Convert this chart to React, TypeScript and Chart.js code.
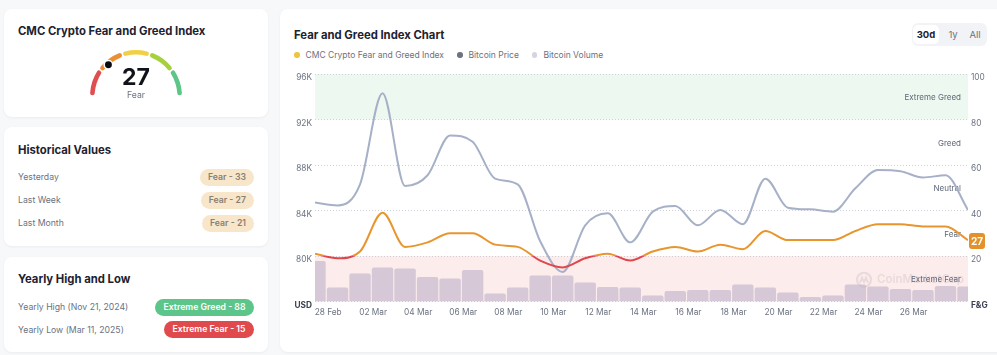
import React, { useEffect, useRef } from "react";
import { Chart, registerables } from "chart.js";

Chart.register(...registerables);

const FONT = "Inter, 'Noto Sans', 'DejaVu Sans', sans-serif";

// ---------- data ----------
const sampleDays = [
  "27 Feb", "28 Feb", "01 Mar", "02 Mar", "03 Mar", "04 Mar", "05 Mar", "06 Mar", "07 Mar", "08 Mar",
  "09 Mar", "10 Mar", "11 Mar", "12 Mar", "13 Mar", "14 Mar", "15 Mar", "16 Mar", "17 Mar", "18 Mar",
  "19 Mar", "20 Mar", "21 Mar", "22 Mar", "23 Mar", "24 Mar", "25 Mar", "26 Mar", "27 Mar", "28 Mar",
];
const SAMPLE_HOUR = 10; // samples are taken at 10:00 each day
const xTickLabels = [
  "28 Feb", "02 Mar", "04 Mar", "06 Mar", "08 Mar", "10 Mar", "12 Mar",
  "14 Mar", "16 Mar", "18 Mar", "20 Mar", "22 Mar", "24 Mar", "26 Mar",
];
const fearGreedIndex = [
  21, 19, 22, 39, 24, 26, 30, 30, 25, 24,
  18, 15, 19, 21, 18, 22, 24, 22, 25, 23,
  31, 27, 27, 27, 31, 34, 34, 33, 33, 27,
];
const bitcoinPrice = [
  84700, 84450, 86300, 94300, 86150, 87100, 90600, 90050, 86800, 86300,
  81300, 78600, 82700, 83750, 81200, 83900, 84400, 82700, 84050, 82800,
  86800, 84250, 84100, 83900, 85950, 87550, 87450, 86900, 87100, 84050,
];
const bitcoinVolume = [
  81, 28, 56, 68, 66, 49, 46, 63, 16, 28,
  52, 52, 38, 29, 28, 12, 21, 23, 23, 34,
  28, 18, 9, 12, 34, 30, 25, 23, 31, 30,
];
const priceTicks = [76000, 80000, 84000, 88000, 92000, 96000];
const fngTicks = [0, 20, 40, 60, 80, 100];
const sentimentZones = ["Extreme Fear", "Fear", "Neutral", "Greed", "Extreme Greed"];
const zoneWidths = [20, 20, 20, 20, 20];
const currentIndex = 27;
const historical = [
  { label: "Yesterday", value: "Fear - 33" },
  { label: "Last Week", value: "Fear - 27" },
  { label: "Last Month", value: "Fear - 21" },
];
const yearly = [
  { label: "Yearly High (Nov 21, 2024)", value: "Extreme Greed - 88", kind: "high" },
  { label: "Yearly Low (Mar 11, 2025)", value: "Extreme Fear - 15", kind: "low" },
];

// ---------- styles ----------
const ORANGE = "#e8952e";
const RED = "#e0474c";
const PRICE_COLOR = "#a6b0c7";
const gaugeColors = ["#e04f4f", "#ec8f33", "#f2d045", "#a5d13e", "#5ec588"];
const TICK_SIZE = 8.3;

function MainChart() {
  const ref = useRef<HTMLCanvasElement>(null);
  useEffect(() => {
    const canvas = ref.current;
    if (!canvas) return;
    const xs = sampleDays.map((_, i) => i - 1 + SAMPLE_HOUR / 24);
    const xMin = xs[0];
    const xMax = xs[xs.length - 1];

    const fngColor = (c: any) => {
      const chart = c.chart;
      const area = chart.chartArea;
      if (!area || !chart.scales.y) return ORANGE;
      const y20 = chart.scales.y.getPixelForValue(20);
      const g = chart.ctx.createLinearGradient(0, area.top, 0, area.bottom);
      const t = Math.min(Math.max((y20 - area.top) / (area.bottom - area.top), 0), 1);
      g.addColorStop(0, ORANGE);
      g.addColorStop(t, ORANGE);
      g.addColorStop(t, RED);
      g.addColorStop(1, RED);
      return g;
    };

    const bandsPlugin = {
      id: "bands",
      beforeDraw(chart: any) {
        const { ctx, chartArea: a, scales } = chart;
        const y = scales.y;
        ctx.save();
        ctx.fillStyle = "#edf8f1";
        ctx.fillRect(a.left, y.getPixelForValue(100), a.right - a.left, y.getPixelForValue(80) - y.getPixelForValue(100));
        ctx.fillStyle = "#fcecec";
        ctx.fillRect(a.left, y.getPixelForValue(20), a.right - a.left, y.getPixelForValue(0) - y.getPixelForValue(20));
        ctx.restore();
      },
      beforeDatasetsDraw(chart: any) {
        const { ctx, chartArea: a, scales } = chart;
        const y = scales.y;
        ctx.save();
        // watermark
        const wy = y.getPixelForValue(10) + 1;
        const wx = a.right - 104;
        ctx.strokeStyle = "rgba(175,150,160,0.22)";
        ctx.lineWidth = 2;
        ctx.beginPath();
        ctx.arc(wx, wy, 7, 0, Math.PI * 2);
        ctx.stroke();
        ctx.beginPath();
        ctx.moveTo(wx - 4, wy + 3);
        ctx.lineTo(wx - 2, wy - 2);
        ctx.lineTo(wx, wy + 2);
        ctx.lineTo(wx + 2, wy - 2);
        ctx.lineTo(wx + 4, wy + 3);
        ctx.stroke();
        ctx.fillStyle = "rgba(175,150,160,0.22)";
        ctx.font = `600 11.5px ${FONT}`;
        ctx.textBaseline = "middle";
        ctx.textAlign = "left";
        ctx.fillText("CoinMarketCap", wx + 13, wy);
        // zone labels
        ctx.fillStyle = "#5f6677";
        ctx.font = `400 8px ${FONT}`;
        ctx.textAlign = "right";
        sentimentZones.forEach((name, i) => {
          const mid = i * 20 + 10;
          ctx.fillText(name, a.right - 7, y.getPixelForValue(mid) + 1);
        });
        ctx.restore();
      },
      afterDraw(chart: any) {
        const { ctx, chartArea: a, scales } = chart;
        const v = fearGreedIndex[fearGreedIndex.length - 1];
        const yp = scales.y.getPixelForValue(v) + 1;
        const x0 = a.right + 1;
        const w = 16;
        const h = 16;
        ctx.save();
        ctx.fillStyle = "#e3912a";
        ctx.beginPath();
        (ctx as any).roundRect(x0, yp - h / 2, w, h, 3);
        ctx.fill();
        ctx.fillStyle = "#ffffff";
        ctx.font = `700 10px ${FONT}`;
        ctx.textAlign = "center";
        ctx.textBaseline = "middle";
        ctx.fillText(String(v), x0 + w / 2, yp + 0.5);
        ctx.restore();
      },
    };

    const tickFont = (c: any, boldValue: number) => ({
      family: FONT,
      size: TICK_SIZE,
      weight: c.tick && c.tick.value === boldValue ? "700" : "400",
    });
    const tickColor = (c: any, boldValue: number) =>
      c.tick && c.tick.value === boldValue ? "#3b4150" : "#6b7280";

    const chart = new Chart(canvas, {
      type: "line",
      data: {
        datasets: [
          {
            type: "line",
            label: "CMC Crypto Fear and Greed Index",
            data: xs.map((x, i) => ({ x, y: fearGreedIndex[i] })),
            yAxisID: "y",
            borderColor: fngColor,
            borderWidth: 2,
            pointRadius: 0,
            cubicInterpolationMode: "monotone",
            order: 1,
            clip: 0,
          } as any,
          {
            type: "line",
            label: "Bitcoin Price",
            data: xs.map((x, i) => ({ x, y: bitcoinPrice[i] })),
            yAxisID: "yPrice",
            borderColor: PRICE_COLOR,
            borderWidth: 2,
            pointRadius: 0,
            cubicInterpolationMode: "monotone",
            order: 2,
            clip: 0,
          } as any,
          {
            type: "bar",
            label: "Bitcoin Volume",
            data: xs.map((x, i) => ({ x, y: bitcoinVolume[i] })),
            yAxisID: "yVol",
            backgroundColor: "rgba(190,178,200,0.62)",
            barPercentage: 0.95,
            categoryPercentage: 1,
            borderRadius: { topLeft: 2, topRight: 2, bottomLeft: 0, bottomRight: 0 },
            borderSkipped: false,
            order: 3,
            clip: 0,
          } as any,
        ],
      },
      options: {
        responsive: false,
        animation: false,
        events: [],
        layout: { padding: { top: 10, left: 0, right: 0, bottom: 0 } },
        plugins: { legend: { display: false }, tooltip: { enabled: false } },
        scales: {
          x: {
            type: "linear",
            min: xMin,
            max: xMax,
            offset: false,
            grid: { display: false, drawTicks: false },
            border: { display: false },
            afterBuildTicks: (s: any) => {
              s.ticks = xTickLabels.map((_, k) => ({ value: k * 2 }));
            },
            afterFit: (s: any) => {
              s.height = 22.5;
            },
            ticks: {
              callback: (_v: any, i: number) => xTickLabels[i],
              maxRotation: 0,
              autoSkip: false,
              padding: 6,
              font: { family: FONT, size: TICK_SIZE },
              color: "#6b7280",
            },
          },
          yPrice: {
            type: "linear",
            position: "left",
            min: priceTicks[0],
            max: priceTicks[priceTicks.length - 1],
            grid: { display: false, drawTicks: false },
            border: { display: false },
            afterBuildTicks: (s: any) => {
              s.ticks = priceTicks.map((v) => ({ value: v }));
            },
            afterFit: (s: any) => {
              s.width = 30;
            },
            ticks: {
              padding: 3,
              labelOffset: 4,
              callback: (v: any) => (v === priceTicks[0] ? "USD" : `${v / 1000}K`),
              font: (c: any) => tickFont(c, priceTicks[0]),
              color: (c: any) => tickColor(c, priceTicks[0]),
            },
          },
          y: {
            type: "linear",
            position: "right",
            min: 0,
            max: 100,
            grid: { color: "#ccd1da", lineWidth: 1, drawTicks: false },
            border: { display: false, dash: [1, 2] },
            afterBuildTicks: (s: any) => {
              s.ticks = fngTicks.map((v) => ({ value: v }));
            },
            afterFit: (s: any) => {
              s.width = 29;
            },
            ticks: {
              padding: 3,
              labelOffset: 4,
              callback: (v: any) => (v === 0 ? "F&G" : String(v)),
              font: (c: any) => tickFont(c, 0),
              color: (c: any) => tickColor(c, 0),
            },
          },
          yVol: {
            type: "linear",
            display: false,
            min: 0,
            max: 455,
          },
        },
      } as any,
      plugins: [bandsPlugin],
    });
    return () => chart.destroy();
  }, []);
  return (
    <canvas
      ref={ref}
      width={712}
      height={260}
      style={{ position: "absolute", left: 5, top: 55, width: 712, height: 260 }}
    />
  );
}

function Gauge() {
  const ref = useRef<HTMLCanvasElement>(null);
  useEffect(() => {
    const canvas = ref.current;
    if (!canvas) return;
    const dotPlugin = {
      id: "dot",
      afterDatasetsDraw(chart: any) {
        const arc = chart.getDatasetMeta(0).data[0];
        if (!arc) return;
        const { x, y, innerRadius, outerRadius } = arc;
        const r = (innerRadius + outerRadius) / 2;
        const ang = -Math.PI + (Math.PI * currentIndex) / 100;
        const ctx = chart.ctx;
        ctx.save();
        ctx.beginPath();
        ctx.arc(x + r * Math.cos(ang), y + r * Math.sin(ang), 4.2, 0, Math.PI * 2);
        ctx.fillStyle = "#0b0b0f";
        ctx.fill();
        ctx.lineWidth = 1.5;
        ctx.strokeStyle = "#ffffff";
        ctx.stroke();
        ctx.restore();
      },
    };
    const chart = new Chart(canvas, {
      type: "doughnut",
      data: {
        labels: sentimentZones,
        datasets: [
          {
            data: zoneWidths,
            backgroundColor: gaugeColors,
            borderWidth: 0,
            borderRadius: 3,
            spacing: 4,
          } as any,
        ],
      },
      options: {
        responsive: false,
        animation: false,
        events: [],
        rotation: -90,
        circumference: 180,
        radius: 44,
        cutout: "89.5%",
        plugins: { legend: { display: false }, tooltip: { enabled: false } },
      } as any,
      plugins: [dotPlugin],
    });
    return () => chart.destroy();
  }, []);
  return (
    <canvas
      ref={ref}
      width={100}
      height={56}
      style={{ position: "absolute", left: 82, top: 37, width: 100, height: 56 }}
    />
  );
}

const card: React.CSSProperties = {
  position: "absolute",
  background: "#ffffff",
  borderRadius: 8,
  boxShadow: "0 1px 3px rgba(16,24,40,0.05)",
};
const cardTitle: React.CSSProperties = {
  position: "absolute",
  left: 14,
  fontSize: 11.3,
  lineHeight: "14px",
  fontWeight: 700,
  color: "#1d2230",
  whiteSpace: "nowrap",
};
const rowLabel: React.CSSProperties = {
  position: "absolute",
  left: 14,
  fontSize: 8.7,
  lineHeight: "12px",
  color: "#6b7280",
  whiteSpace: "nowrap",
};
const pill = (bg: string, color: string): React.CSSProperties => ({
  position: "absolute",
  right: 14,
  height: 17,
  lineHeight: "17px",
  padding: "0 8px",
  borderRadius: 9,
  background: bg,
  color,
  fontSize: 8.7,
  fontWeight: 600,
  whiteSpace: "nowrap",
});

export default function App() {
  return (
    <div
      style={{
        position: "absolute",
        left: 0,
        top: 0,
        width: 997,
        height: 355,
        overflow: "hidden",
        background: "#f7f8fa",
        fontFamily: FONT,
      }}
    >
      {/* Gauge card */}
      <div style={{ ...card, left: 4, top: 9, width: 264, height: 108 }}>
        <div style={{ ...cardTitle, top: 15 }}>CMC Crypto Fear and Greed Index</div>
        <Gauge />
        <div
          style={{
            position: "absolute",
            left: 92,
            width: 80,
            top: 56,
            textAlign: "center",
            fontSize: 23,
            lineHeight: "24px",
            fontWeight: 700,
            color: "#10131a",
          }}
        >
          {currentIndex}
        </div>
        <div
          style={{
            position: "absolute",
            left: 92,
            width: 80,
            top: 81,
            textAlign: "center",
            fontSize: 8.7,
            lineHeight: "11px",
            color: "#6b7280",
          }}
        >
          Fear
        </div>
      </div>

      {/* Historical values */}
      <div style={{ ...card, left: 4, top: 127, width: 264, height: 119 }}>
        <div style={{ ...cardTitle, top: 16 }}>Historical Values</div>
        {historical.map((h, i) => (
          <React.Fragment key={h.label}>
            <div style={{ ...rowLabel, top: 44 + i * 23 }}>{h.label}</div>
            <div style={{ ...pill("#f8e6ca", "#8a7f72"), top: 41.5 + i * 23 }}>{h.value}</div>
          </React.Fragment>
        ))}
      </div>

      {/* Yearly high / low */}
      <div style={{ ...card, left: 4, top: 257, width: 264, height: 95 }}>
        <div style={{ ...cardTitle, top: 15 }}>Yearly High and Low</div>
        {yearly.map((h, i) => (
          <React.Fragment key={h.label}>
            <div style={{ ...rowLabel, top: 44 + i * 22.5 }}>{h.label}</div>
            <div
              style={{
                ...pill(h.kind === "high" ? "#5cc58a" : "#e04a4d", "#ffffff"),
                top: 41.5 + i * 22.5,
                padding: "0 8.5px",
              }}
            >
              {h.value}
            </div>
          </React.Fragment>
        ))}
      </div>

      {/* Main chart card */}
      <div style={{ ...card, left: 280, top: 9, width: 730, height: 343 }}>
        <div style={{ ...cardTitle, top: 19 }}>Fear and Greed Index Chart</div>
        <div
          style={{
            position: "absolute",
            left: 14,
            top: 40,
            height: 12,
            display: "flex",
            alignItems: "center",
            fontSize: 8.5,
            color: "#6b7280",
            whiteSpace: "nowrap",
          }}
        >
          {[
            { name: "CMC Crypto Fear and Greed Index", color: "#efc43e" },
            { name: "Bitcoin Price", color: "#6d7382" },
            { name: "Bitcoin Volume", color: "#d3d6e1" },
          ].map((l, i) => (
            <span key={l.name} style={{ display: "flex", alignItems: "center", marginLeft: i === 0 ? 0 : 13 }}>
              <span
                style={{
                  width: 5.5,
                  height: 5.5,
                  borderRadius: "50%",
                  background: l.color,
                  display: "inline-block",
                  marginRight: 6,
                }}
              />
              {l.name}
            </span>
          ))}
        </div>
        <div
          style={{
            position: "absolute",
            left: 632,
            top: 14,
            width: 75,
            height: 23,
            borderRadius: 6,
            background: "#f1f3f6",
            fontSize: 9.5,
            color: "#6b7280",
          }}
        >
          <div
            style={{
              position: "absolute",
              left: 1,
              top: 2,
              width: 26,
              height: 19,
              borderRadius: 5,
              background: "#ffffff",
              color: "#1d2230",
              fontWeight: 700,
              textAlign: "center",
              lineHeight: "19px",
            }}
          >
            30d
          </div>
          <div style={{ position: "absolute", left: 33, width: 16, top: 2, lineHeight: "19px", textAlign: "center" }}>1y</div>
          <div style={{ position: "absolute", left: 54, width: 18, top: 2, lineHeight: "19px", textAlign: "center" }}>All</div>
        </div>
        <MainChart />
      </div>
    </div>
  );
}
